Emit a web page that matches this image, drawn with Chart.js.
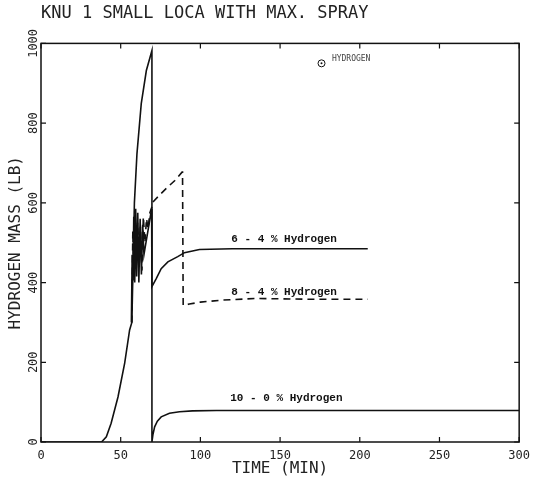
<!DOCTYPE html>
<html>
<head>
<meta charset="utf-8">
<script src="https://cdn.jsdelivr.net/npm/chart.js@4.4.1/dist/chart.umd.min.js"></script>
<style>
  body { margin: 0; background: #fff; }
  #wrap { width: 537px; height: 480px; }
</style>
</head>
<body>
<div id="wrap"><canvas id="h2chart" width="537" height="480"></canvas></div>
<script>
// time (min) and hydrogen mass (lb)
const t10 = [0, 38, 41, 44, 48.3, 52.5, 55.6, 57, 57.8, 58.6, 60.2, 62.9, 66.1, 69.6, 69.6, 70.2, 71.3, 73, 75.4, 80.6, 86.9, 95, 110, 150, 200, 250, 300]
const v10 = [0, 0, 13, 47, 113, 198, 281, 300, 450, 600, 723, 849, 932, 982, 0, 18, 38, 52, 63, 72, 76, 78, 79, 79, 79, 79, 79]

const t64 = [56.7, 57.2, 57.7, 58.2, 58.8, 59.4, 60.0, 60.7, 61.4, 62.2, 63.0, 63.8, 64.6, 69.4, 69.6, 72.3, 75.4, 79.6, 85.8, 90, 99.4, 120, 160, 205]
const v64 = [300, 470, 405, 565, 400, 585, 415, 575, 400, 560, 420, 545, 470, 585, 390, 410, 435, 452, 465, 475, 483, 485, 485, 485]

const t84 = [57.0, 57.6, 58.3, 59.0, 59.8, 60.6, 61.5, 62.4, 63.3, 64.2, 65.2, 66.2, 67.2, 68.3, 69.6, 70.2, 75, 79.6, 84, 88.5, 88.8, 89.2, 93.1, 100, 113.9, 134.8, 170, 205]
const v84 = [300, 530, 430, 575, 445, 550, 470, 540, 430, 565, 500, 560, 535, 575, 590, 602, 622, 640, 656, 677, 677, 343, 346, 351, 356, 360, 358, 358]

const xTicks = [0, 50, 100, 150, 200, 250, 300]
const yTicks = [0, 200, 400, 600, 800, 1000]

const curveLabels = ["10 - 0 % Hydrogen", "6 - 4 % Hydrogen", "8 - 4 % Hydrogen"]

function pts(t, v) {
    return t.map(function(x, i) { return {x: x, y: v[i]} })
}

const mono = "'DejaVu Sans Mono', monospace"

// frame, inward tick marks and the text written on the plot
const decor = {
    id: "decor",
    afterDraw(chart) {
        const ctx = chart.ctx
        const a = chart.chartArea
        const xs = chart.scales.x
        const ys = chart.scales.y
        ctx.save()
        ctx.strokeStyle = "#111"
        ctx.lineWidth = 1.5
        ctx.strokeRect(a.left, a.top, a.right - a.left, a.bottom - a.top)
        ctx.lineWidth = 1.2
        xTicks.forEach(function(t) {
            let px = xs.getPixelForValue(t)
            ctx.beginPath()
            ctx.moveTo(px, a.bottom); ctx.lineTo(px, a.bottom - 5)
            ctx.moveTo(px, a.top); ctx.lineTo(px, a.top + 5)
            ctx.stroke()
        })
        yTicks.forEach(function(v) {
            let py = ys.getPixelForValue(v)
            ctx.beginPath()
            ctx.moveTo(a.left, py); ctx.lineTo(a.left + 5, py)
            ctx.moveTo(a.right, py); ctx.lineTo(a.right - 5, py)
            ctx.stroke()
        })

        ctx.fillStyle = "#111"
        ctx.font = "bold 11px 'Liberation Mono', monospace"
        ctx.textBaseline = "middle"
        ctx.textAlign = "left"
        ctx.fillText(curveLabels[0], xs.getPixelForValue(118.75), ys.getPixelForValue(110))
        ctx.fillText(curveLabels[1], xs.getPixelForValue(119.4), ys.getPixelForValue(509))
        ctx.fillText(curveLabels[2], xs.getPixelForValue(119.4), ys.getPixelForValue(376))

        // small legend mark at the top
        let cx = xs.getPixelForValue(176), cy = ys.getPixelForValue(950)
        ctx.lineWidth = 1
        ctx.beginPath(); ctx.arc(cx, cy, 3.5, 0, Math.PI * 2); ctx.stroke()
        ctx.beginPath(); ctx.arc(cx, cy, 1, 0, Math.PI * 2); ctx.fill()
        ctx.fillStyle = "#444"
        ctx.font = "8px " + mono
        ctx.fillText("HYDROGEN", xs.getPixelForValue(182.5), ys.getPixelForValue(960))
        ctx.restore()
    }
}

const data = {
    datasets: [{
        label: curveLabels[0],
        data: pts(t10, v10),
        borderColor: "#111",
        borderWidth: 1.6
    }, {
        label: curveLabels[1],
        data: pts(t64, v64),
        borderColor: "#111",
        borderWidth: 1.6
    }, {
        label: curveLabels[2],
        data: pts(t84, v84),
        borderColor: "#111",
        borderWidth: 1.6,
        borderDash: [7, 5]
    }]
}

const config = {
    type: "line",
    data,
    options: {
        responsive: false,
        animation: false,
        layout: { padding: { left: 0, right: 17, top: 0, bottom: 0 } },
        elements: { point: { radius: 0 }, line: { tension: 0 } },
        plugins: {
            legend: { display: false },
            tooltip: { enabled: false },
            title: {
                display: true,
                text: "KNU 1 SMALL LOCA WITH MAX. SPRAY",
                align: "start",
                fullSize: false,
                color: "#222",
                font: { family: mono, size: 17, weight: "normal" },
                padding: { top: 3, bottom: 20 }
            }
        },
        scales: {
            x: {
                type: "linear",
                min: 0,
                max: 300,
                afterBuildTicks: function(s) { s.ticks = xTicks.map(function(v) { return {value: v} }) },
                afterFit: function(s) { s.height = 38 },
                grid: { display: false, drawTicks: false },
                border: { display: false },
                ticks: {
                    color: "#222", padding: 7, maxRotation: 0,
                    font: { family: mono, size: 12 },
                    callback: function(v) { return String(v) }
                },
                title: {
                    display: true,
                    text: "TIME (MIN)",
                    color: "#222",
                    font: { family: mono, size: 16 },
                    padding: { top: 0, bottom: 2 }
                }
            },
            y: {
                min: 0,
                max: 1000,
                afterBuildTicks: function(s) { s.ticks = yTicks.map(function(v) { return {value: v} }) },
                afterFit: function(s) { s.width = 41 },
                grid: { display: false, drawTicks: false },
                border: { display: false },
                ticks: {
                    color: "#222",
                    font: { family: mono, size: 12 },
                    minRotation: 90,
                    maxRotation: 90,
                    crossAlign: "center",
                    padding: -7,
                    callback: function(v) { return String(v) }
                },
                title: {
                    display: true,
                    text: "HYDROGEN MASS (LB)",
                    color: "#222",
                    font: { family: mono, size: 16 },
                    padding: { top: 6, bottom: 0 }
                }
            }
        }
    },
    plugins: [decor]
}

const myChart = new Chart(document.getElementById("h2chart"), config)
</script>
</body>
</html>
